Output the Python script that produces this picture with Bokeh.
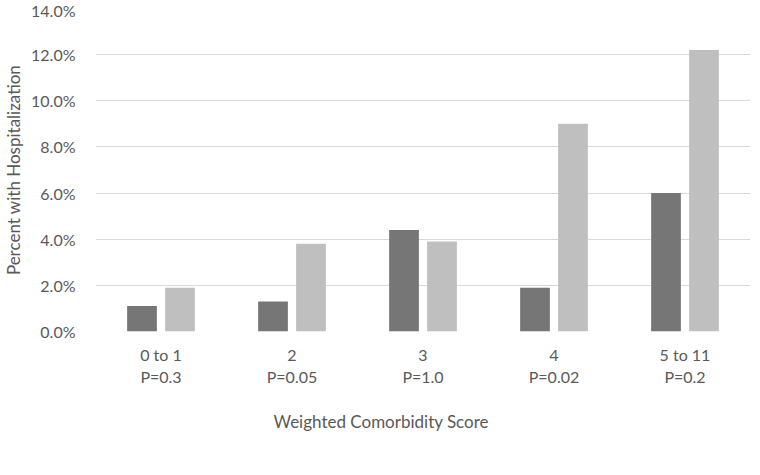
from bokeh.plotting import figure
from bokeh.models import (ColumnDataSource, FactorRange, FixedTicker, PrintfTickFormatter,
                          Legend, LegendItem, Title)
from bokeh.transform import dodge
from bokeh.embed import file_html
from bokeh.resources import INLINE

categories = ["0 to 1", "2", "3", "4", "5 to 11"]
p_values = ["P=0.3", "P=0.05", "P=1.0", "P=0.02", "P=0.2"]
accept = [1.1, 1.3, 4.4, 1.9, 6.0]
decline = [1.9, 3.8, 3.9, 9.0, 12.2]
y_ticks = [0, 2, 4, 6, 8, 10, 12, 14]

labels = [f"{c}\n{pv}" for c, pv in zip(categories, p_values)]
src = ColumnDataSource(dict(cat=labels, accept=accept, decline=decline))

FONT = "Lato"
TXT = "#595959"

p = figure(x_range=FactorRange(*labels), y_range=(0, 14), frame_width=655, frame_height=323,
           output_backend="svg", toolbar_location=None,
           min_border_left=86, min_border_right=0, min_border_top=8, min_border_bottom=0)

r1 = p.vbar(x=dodge("cat", -0.145, range=p.x_range), top="accept", width=0.227,
            source=src, color="#767676", line_color=None)
r2 = p.vbar(x=dodge("cat", 0.145, range=p.x_range), top="decline", width=0.227,
            source=src, color="#bfbfbf", line_color=None)

p.outline_line_color = None
p.xgrid.grid_line_color = None
p.ygrid.grid_line_color = "#d9d9d9"
p.ygrid.grid_line_width = 1
p.yaxis.ticker = FixedTicker(ticks=y_ticks)
p.yaxis.formatter = PrintfTickFormatter(format="%.1f%%")
for ax in (p.xaxis[0], p.yaxis[0]):
    ax.axis_line_color = None
    ax.major_tick_line_color = None
    ax.minor_tick_line_color = None
    ax.major_label_text_font = FONT
    ax.major_label_text_font_size = "16px"
    ax.major_label_text_color = TXT
    ax.axis_label_text_font = FONT
    ax.axis_label_text_font_size = "17px"
    ax.axis_label_text_color = TXT
    ax.axis_label_text_font_style = "normal"

p.yaxis.axis_label = "Percent with Hospitalization"
p.yaxis.major_label_standoff = 14
p.yaxis.axis_label_standoff = 4
p.xaxis.major_label_standoff = 7

xtitle = Title(text="Weighted Comorbidity Score", align="left", offset=178,
               text_font=FONT, text_font_size="17px", text_color=TXT,
               text_font_style="normal", standoff=38)
p.add_layout(xtitle, "below")

legend = Legend(items=[LegendItem(label="Accept", renderers=[r1]),
                       LegendItem(label="Decline", renderers=[r2])],
                orientation="horizontal", location="top_center",
                label_text_font=FONT, label_text_font_size="17px", label_text_color=TXT,
                glyph_width=11, glyph_height=11, label_standoff=5, spacing=18,
                label_height=18, border_line_color=None, background_fill_alpha=0,
                padding=0, margin=0)
p.add_layout(legend, "below")

open("out.html", "w").write(file_html(p, INLINE))
